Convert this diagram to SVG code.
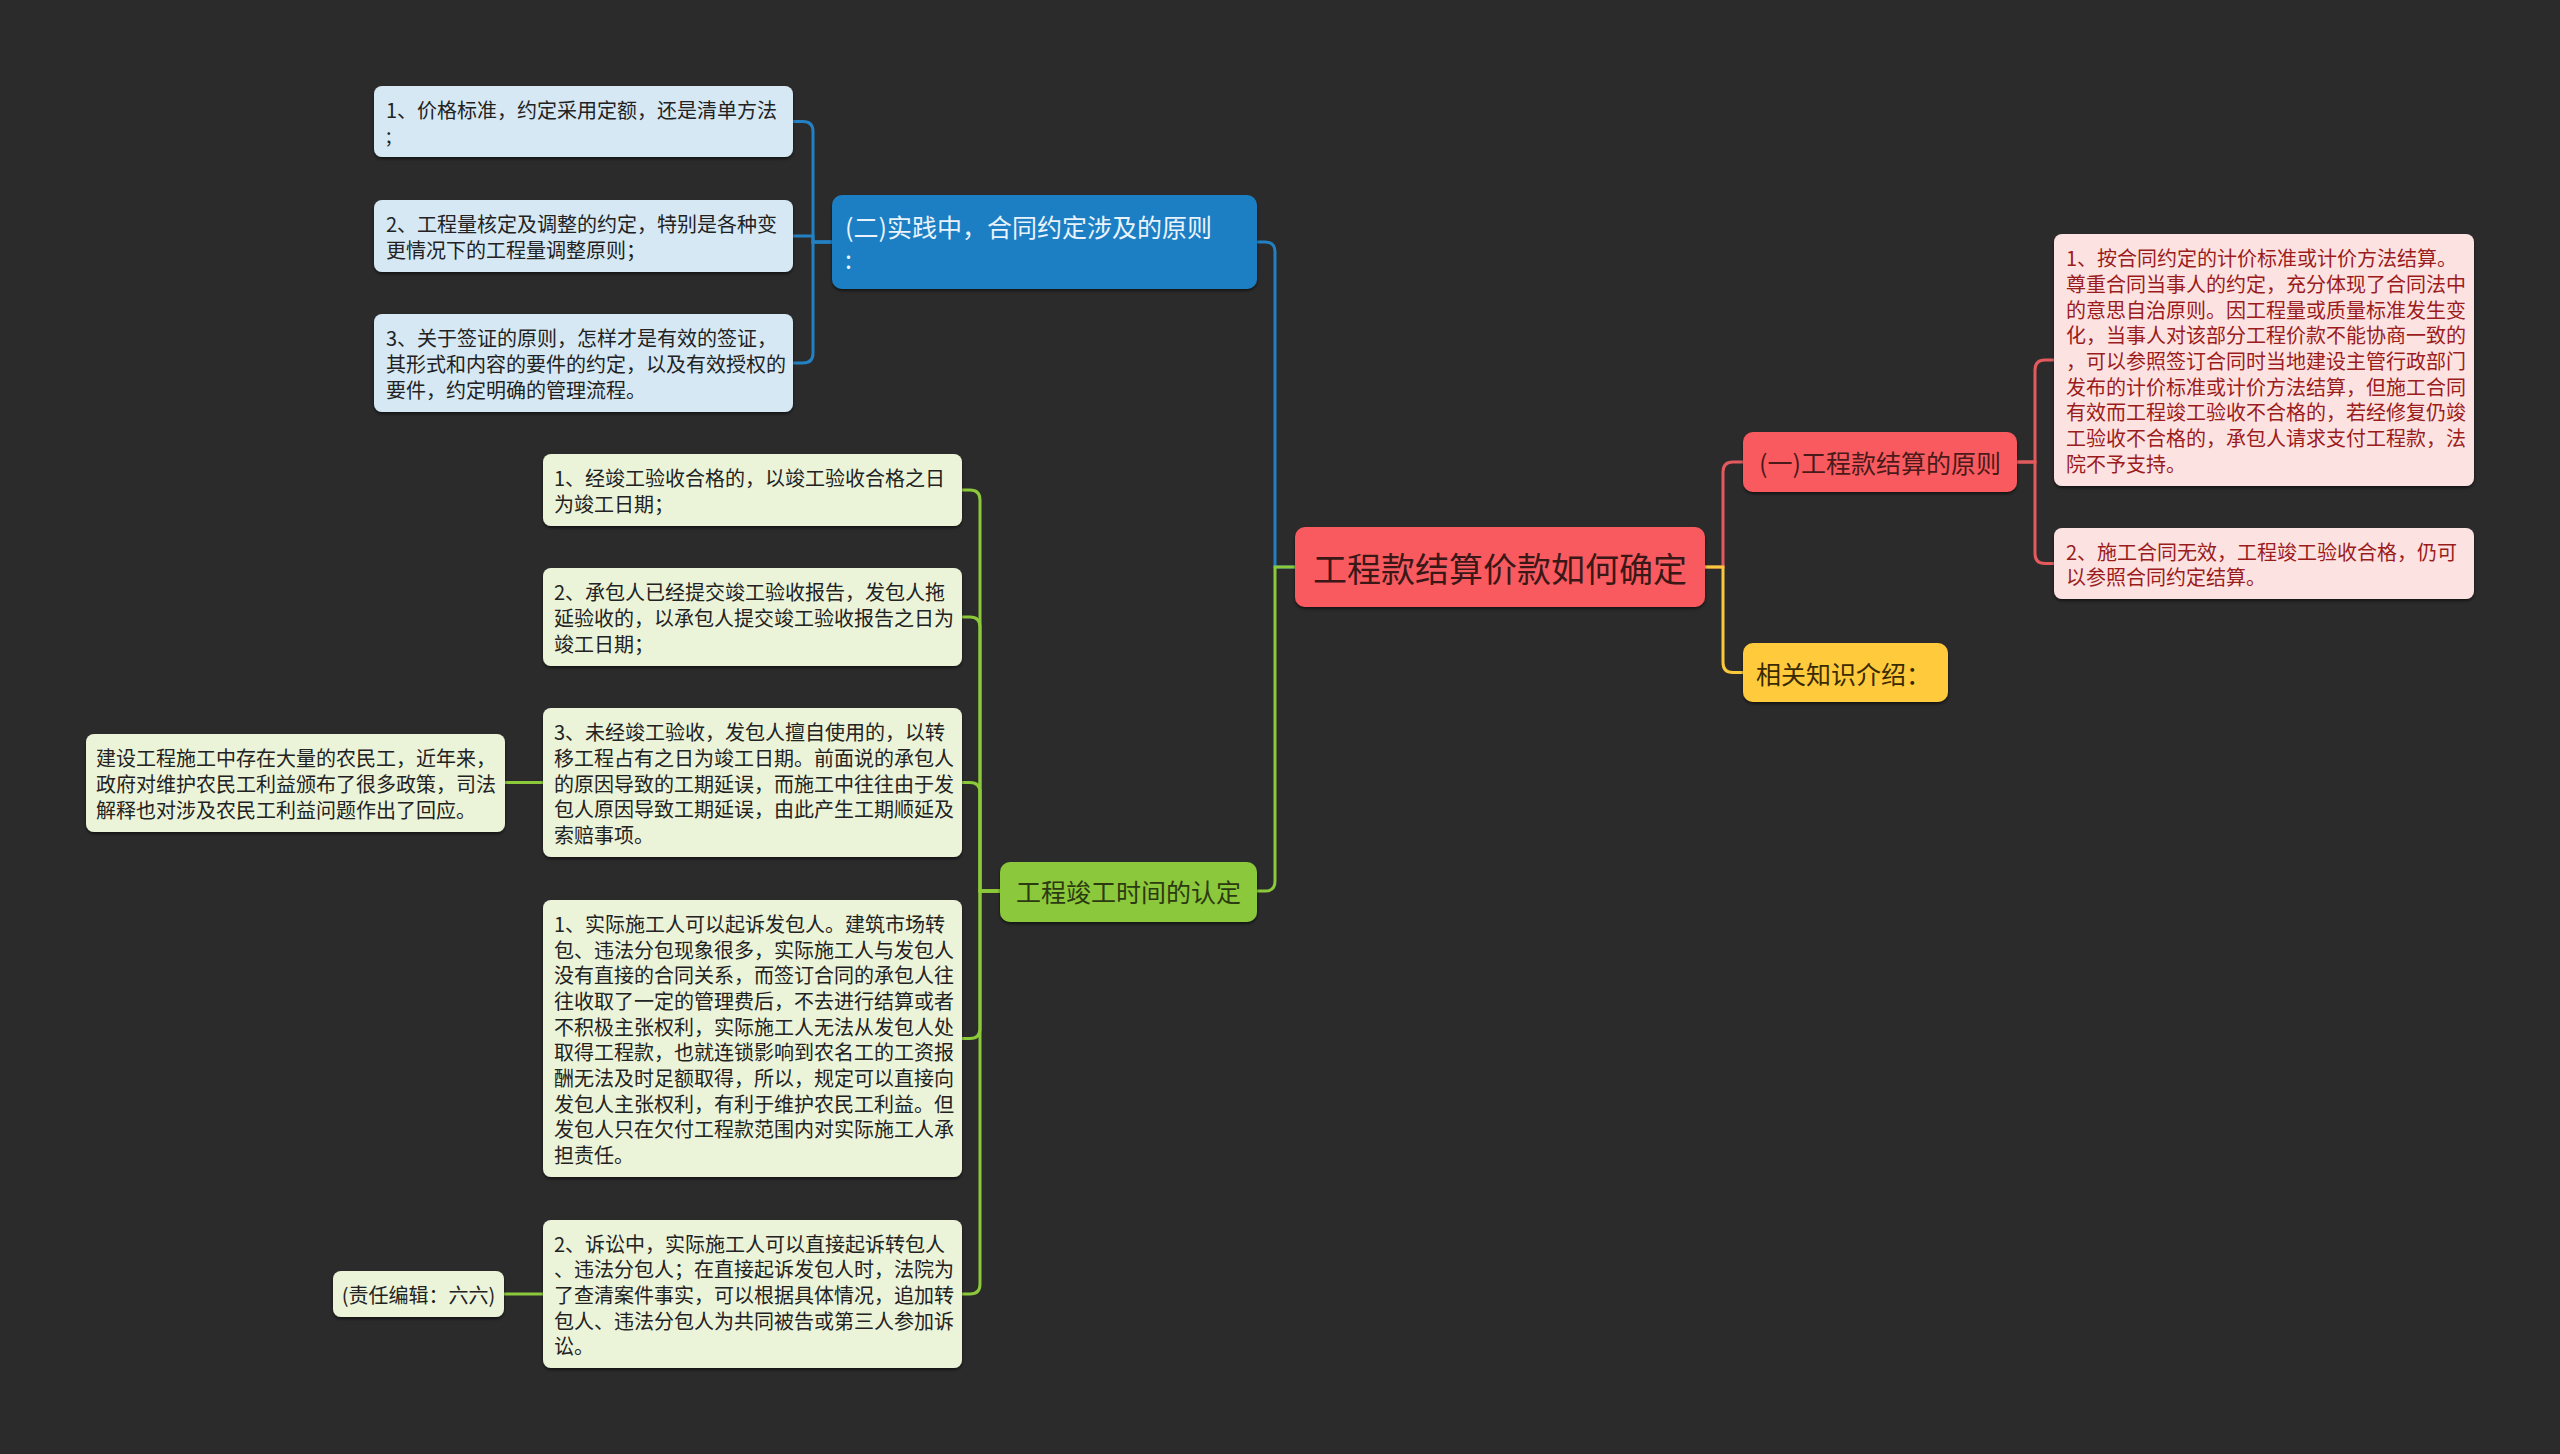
<svg xmlns="http://www.w3.org/2000/svg" width="2560" height="1454" viewBox="0 0 2560 1454">
<defs>
<filter id="sh" x="-5%" y="-5%" width="110%" height="120%">
<feDropShadow dx="0" dy="2" stdDeviation="1.5" flood-color="#000" flood-opacity="0.55"/>
</filter>
<style>
text{font-family:"Noto Sans CJK SC","Noto Sans",sans-serif;dominant-baseline:central;}
.s{font-size:20px;}
.b{font-size:25px;}
.rect{filter:url(#sh);}
.lb{fill:#D5E8F4;} .lg{fill:#EBF3D8;} .lr{fill:#FDE2E2;}
.tb{fill:#222;} .tg{fill:#222;} .tr{fill:#9A1C1C;}
.c{fill:none;stroke-width:3;}
.cb{stroke:#2380C2;} .cg{stroke:#8BC83A;} .cr{stroke:#E35A5E;} .cy{stroke:#F8C93C;}
</style>
</defs>
<rect width="2560" height="1454" fill="#2B2B2B"/>

<g id="connectors">
<path class="c cb" d="M1295,567 H1275 V252 Q1275,242 1265,242 H1257"/>
<path class="c cg" d="M1295,567 H1275 V881 Q1275,891 1265,891 H1257"/>
<path class="c cb" d="M832,242 H813 V131.5 Q813,121.5 803,121.5 H793"/>
<path class="c cb" d="M832,242 H813 V236 H793"/>
<path class="c cb" d="M832,242 H813 V353 Q813,363 803,363 H793"/>
<path class="c cg" d="M1000,891 H980 V500 Q980,490 970,490 H962"/>
<path class="c cg" d="M1000,891 H980 V627 Q980,617 970,617 H962"/>
<path class="c cg" d="M1000,891 H980 V792.5 Q980,782.5 970,782.5 H962"/>
<path class="c cg" d="M1000,891 H980 V1028.5 Q980,1038.5 970,1038.5 H962"/>
<path class="c cg" d="M1000,891 H980 V1284 Q980,1294 970,1294 H962"/>
<path class="c cg" d="M543,782.5 H505"/>
<path class="c cg" d="M543,1294 H504"/>
<path class="c cr" d="M1705,567 H1723 V472 Q1723,462 1733,462 H1743"/>
<path class="c cy" d="M1705,567 H1723 V662.5 Q1723,672.5 1733,672.5 H1743"/>
<path class="c cr" d="M2017,462 H2035 V370 Q2035,360 2045,360 H2054"/>
<path class="c cr" d="M2017,462 H2035 V553.5 Q2035,563.5 2045,563.5 H2054"/>
</g>

<g id="root">
<rect class="rect" x="1295" y="527" width="410" height="80" rx="10" fill="#F95A5E"/>
<text x="1500" y="567" text-anchor="middle" font-size="34" fill="#3A1818">工程款结算价款如何确定</text>
</g>

<g id="n-blue">
<rect class="rect" x="832" y="195" width="425" height="94" rx="10" fill="#1B7FC4"/>
<text class="b" fill="#EAF3FB"><tspan x="845" y="226">(二)实践中，合同约定涉及的原则</tspan><tspan x="845" y="258">:</tspan></text>
</g>

<g id="n-a1">
<rect class="rect lb" x="374" y="86" width="419" height="71" rx="8"/>
<text class="s tb"><tspan x="386" y="108.65">1、价格标准，约定采用定额，还是清单方法</tspan><tspan x="386" y="134.35">;</tspan></text>
</g>
<g id="n-a2">
<rect class="rect lb" x="374" y="200" width="419" height="72" rx="8"/>
<text class="s tb"><tspan x="386" y="223.15">2、工程量核定及调整的约定，特别是各种变</tspan><tspan x="386" y="248.85">更情况下的工程量调整原则；</tspan></text>
</g>
<g id="n-a3">
<rect class="rect lb" x="374" y="314" width="419" height="98" rx="8"/>
<text class="s tb"><tspan x="386" y="337.3">3、关于签证的原则，怎样才是有效的签证，</tspan><tspan x="386" y="363">其形式和内容的要件的约定，以及有效授权的</tspan><tspan x="386" y="388.7">要件，约定明确的管理流程。</tspan></text>
</g>

<g id="n-green">
<rect class="rect" x="1000" y="862" width="257" height="60" rx="10" fill="#8BC83A"/>
<text x="1128.5" y="891" text-anchor="middle" font-size="25" fill="#2C3A12">工程竣工时间的认定</text>
</g>

<g id="n-g1">
<rect class="rect lg" x="543" y="454" width="419" height="72" rx="8"/>
<text class="s tg"><tspan x="554" y="477.15">1、经竣工验收合格的，以竣工验收合格之日</tspan><tspan x="554" y="502.85">为竣工日期；</tspan></text>
</g>
<g id="n-g2">
<rect class="rect lg" x="543" y="568" width="419" height="98" rx="8"/>
<text class="s tg"><tspan x="554" y="591.3">2、承包人已经提交竣工验收报告，发包人拖</tspan><tspan x="554" y="617">延验收的，以承包人提交竣工验收报告之日为</tspan><tspan x="554" y="642.7">竣工日期；</tspan></text>
</g>
<g id="n-g3">
<rect class="rect lg" x="543" y="708" width="419" height="149" rx="8"/>
<text class="s tg"><tspan x="554" y="731.1">3、未经竣工验收，发包人擅自使用的，以转</tspan><tspan x="554" y="756.8">移工程占有之日为竣工日期。前面说的承包人</tspan><tspan x="554" y="782.5">的原因导致的工期延误，而施工中往往由于发</tspan><tspan x="554" y="808.2">包人原因导致工期延误，由此产生工期顺延及</tspan><tspan x="554" y="833.9">索赔事项。</tspan></text>
</g>
<g id="n-farmer">
<rect class="rect lg" x="86" y="734" width="419" height="98" rx="8"/>
<text class="s tg"><tspan x="96" y="757.3">建设工程施工中存在大量的农民工，近年来，</tspan><tspan x="96" y="783">政府对维护农民工利益颁布了很多政策，司法</tspan><tspan x="96" y="808.7">解释也对涉及农民工利益问题作出了回应。</tspan></text>
</g>
<g id="n-g4">
<rect class="rect lg" x="543" y="900" width="419" height="277" rx="8"/>
<text class="s tg"><tspan x="554" y="922.85">1、实际施工人可以起诉发包人。建筑市场转</tspan><tspan x="554" y="948.55">包、违法分包现象很多，实际施工人与发包人</tspan><tspan x="554" y="974.25">没有直接的合同关系，而签订合同的承包人往</tspan><tspan x="554" y="999.95">往收取了一定的管理费后，不去进行结算或者</tspan><tspan x="554" y="1025.65">不积极主张权利，实际施工人无法从发包人处</tspan><tspan x="554" y="1051.35">取得工程款，也就连锁影响到农名工的工资报</tspan><tspan x="554" y="1077.05">酬无法及时足额取得，所以，规定可以直接向</tspan><tspan x="554" y="1102.75">发包人主张权利，有利于维护农民工利益。但</tspan><tspan x="554" y="1128.45">发包人只在欠付工程款范围内对实际施工人承</tspan><tspan x="554" y="1154.15">担责任。</tspan></text>
</g>
<g id="n-g5">
<rect class="rect lg" x="543" y="1220" width="419" height="148" rx="8"/>
<text class="s tg"><tspan x="554" y="1242.6">2、诉讼中，实际施工人可以直接起诉转包人</tspan><tspan x="554" y="1268.3">、违法分包人；在直接起诉发包人时，法院为</tspan><tspan x="554" y="1294">了查清案件事实，可以根据具体情况，追加转</tspan><tspan x="554" y="1319.7">包人、违法分包人为共同被告或第三人参加诉</tspan><tspan x="554" y="1345.4">讼。</tspan></text>
</g>
<g id="n-editor">
<rect class="rect lg" x="333" y="1271" width="171" height="46" rx="8"/>
<text class="s tg" x="418.5" y="1294" text-anchor="middle">(责任编辑：六六)</text>
</g>

<g id="n-red">
<rect class="rect" x="1743" y="432" width="274" height="60" rx="10" fill="#F95A5E"/>
<text x="1880" y="462" text-anchor="middle" font-size="25" fill="#4A1A1A">(一)工程款结算的原则</text>
</g>
<g id="n-yellow">
<rect class="rect" x="1743" y="643" width="205" height="59" rx="10" fill="#FFCB3C"/>
<text x="1756" y="672.5" font-size="25" fill="#3A2A00">相关知识介绍：</text>
</g>
<g id="n-r1">
<rect class="rect lr" x="2054" y="234" width="420" height="252" rx="8"/>
<text class="s tr"><tspan x="2066" y="257.2">1、按合同约定的计价标准或计价方法结算。</tspan><tspan x="2066" y="282.9">尊重合同当事人的约定，充分体现了合同法中</tspan><tspan x="2066" y="308.6">的意思自治原则。因工程量或质量标准发生变</tspan><tspan x="2066" y="334.3">化，当事人对该部分工程价款不能协商一致的</tspan><tspan x="2066" y="360">，可以参照签订合同时当地建设主管行政部门</tspan><tspan x="2066" y="385.7">发布的计价标准或计价方法结算，但施工合同</tspan><tspan x="2066" y="411.4">有效而工程竣工验收不合格的，若经修复仍竣</tspan><tspan x="2066" y="437.1">工验收不合格的，承包人请求支付工程款，法</tspan><tspan x="2066" y="462.8">院不予支持。</tspan></text>
</g>
<g id="n-r2">
<rect class="rect lr" x="2054" y="528" width="420" height="71" rx="8"/>
<text class="s tr"><tspan x="2066" y="550.65">2、施工合同无效，工程竣工验收合格，仍可</tspan><tspan x="2066" y="576.35">以参照合同约定结算。</tspan></text>
</g>
</svg>
